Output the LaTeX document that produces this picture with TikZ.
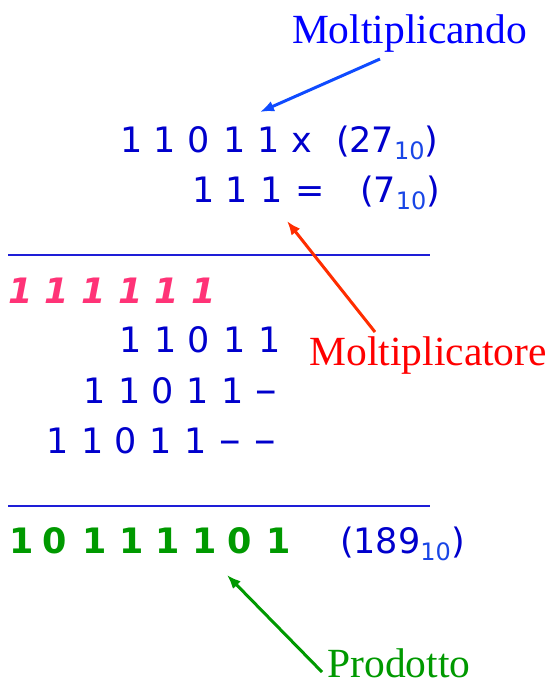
\documentclass[tikz,border=0pt]{standalone}
\usepackage{fontspec}
\usepackage{graphicx}
\setmainfont{Liberation Serif}
\newfontfamily\digitfont{DejaVu Sans}[
  ItalicFont={DejaVu Sans Oblique},
  BoldFont={DejaVu Sans Bold},
  BoldItalicFont={DejaVu Sans Bold Oblique}]
\usetikzlibrary{arrows.meta}

\definecolor{numblue}{RGB}{0,0,204}
\definecolor{subblue}{RGB}{25,70,230}
\definecolor{labelblue}{RGB}{0,0,255}
\definecolor{arrowblue}{RGB}{15,75,255}
\definecolor{rulecol}{RGB}{30,30,215}
\definecolor{carrypink}{RGB}{255,51,119}
\definecolor{prodgreen}{RGB}{0,153,0}
\definecolor{labelred}{RGB}{255,0,0}
\definecolor{arrowred}{RGB}{255,45,0}

% subscript "10" marking a decimal value
\newcommand\baseten{\raisebox{-7pt}{\fontsize{24}{24}\selectfont\color{subblue}10}}
% placeholder dash for shifted partial products
\newcommand\shiftdash{\scalebox{0.8}[1]{−}}

\begin{document}
\begin{tikzpicture}[x=1pt,y=-1pt,
  every node/.style={inner sep=0pt,outer sep=0pt},
  dig/.style={anchor=base,font=\digitfont\fontsize{35}{35}\selectfont,text=numblue},
  carry/.style={anchor=base,font=\digitfont\bfseries\itshape\fontsize{35}{35}\selectfont,text=carrypink},
  res/.style={anchor=base,font=\digitfont\bfseries\fontsize{35}{35}\selectfont,text=prodgreen},
  dec/.style={anchor=base west,font=\digitfont\fontsize{35}{35}\selectfont,text=numblue},
  lbl/.style={anchor=base west,text depth=0pt,font=\fontsize{41.5}{41.5}\selectfont},
  pointer/.style={line width=3pt,-{Latex[length=14pt,width=11pt]}},
  rule/.style={draw=rulecol,line width=2pt}]
\useasboundingbox (0,0) rectangle (552,686);

% multiplicand and multiplier
\foreach \x/\c [count=\i] in {131.5/1,165/1,199/0,235/1,268.5/1,302/x}
  \node[dig] (mc\i) at (\x,152) {\c};
\foreach \x/\c [count=\i] in {203.5/1,236.5/1,271.5/1,310/=}
  \node[dig] (mr\i) at (\x,202) {\c};
\node[dec] (mcdec) at (336,152) {(27\baseten)};
\node[dec] (mrdec) at (360,202) {(7\baseten)};

% first rule
\coordinate (r1a) at (8,255);
\coordinate (r1b) at (430,255);
\draw[rule] (r1a) -- (r1b);

% carries
\foreach \x [count=\i] in {20.5,57,94,131,167,204}
  \node[carry] (cy\i) at (\x,303) {1};

% partial products
\foreach \x/\c [count=\i] in {130.5/1,165.5/1,199/0,234.5/1,269.5/1}
  \node[dig] (pa\i) at (\x,352) {\c};
\foreach \x/\c [count=\i] in {94.5/1,129.5/1,162.5/0,197.5/1,232.5/1,266.5/\shiftdash}
  \node[dig] (pb\i) at (\x,403) {\c};
\foreach \x/\c [count=\i] in {57.5/1,92.5/1,126/0,160.5/1,195.5/1,230/\shiftdash,265/\shiftdash}
  \node[dig] (pc\i) at (\x,453) {\c};

% second rule
\coordinate (r2a) at (8,506);
\coordinate (r2b) at (430,506);
\draw[rule] (r2a) -- (r2b);

% product
\foreach \x/\c [count=\i] in {22/1,55/0,95/1,131.5/1,168/1,205/1,240/0,278.5/1}
  \node[res] (pr\i) at (\x,553) {\c};
\node[dec] (prdec) at (340,553) {(189\baseten)};

% labels and pointers
\node[lbl,text=labelblue] (lmd) at (292,43) {Moltiplicando};
\node[lbl,text=labelred] (lmr) at (309.5,365) {Moltiplicatore};
\node[lbl,text=prodgreen] (lpr) at (327.5,677) {Prodotto};

\coordinate (pmd0) at (380,59);
\coordinate (pmd1) at (260,112);
\coordinate (pmr0) at (375,332);
\coordinate (pmr1) at (287,221);
\coordinate (ppr0) at (322,672);
\coordinate (ppr1) at (227,575);
\draw[pointer,draw=arrowblue,fill=arrowblue] (pmd0) -- (pmd1);
\draw[pointer,draw=arrowred,fill=arrowred] (pmr0) -- (pmr1);
\draw[pointer,draw=prodgreen,fill=prodgreen] (ppr0) -- (ppr1);
\end{tikzpicture}
\end{document}
